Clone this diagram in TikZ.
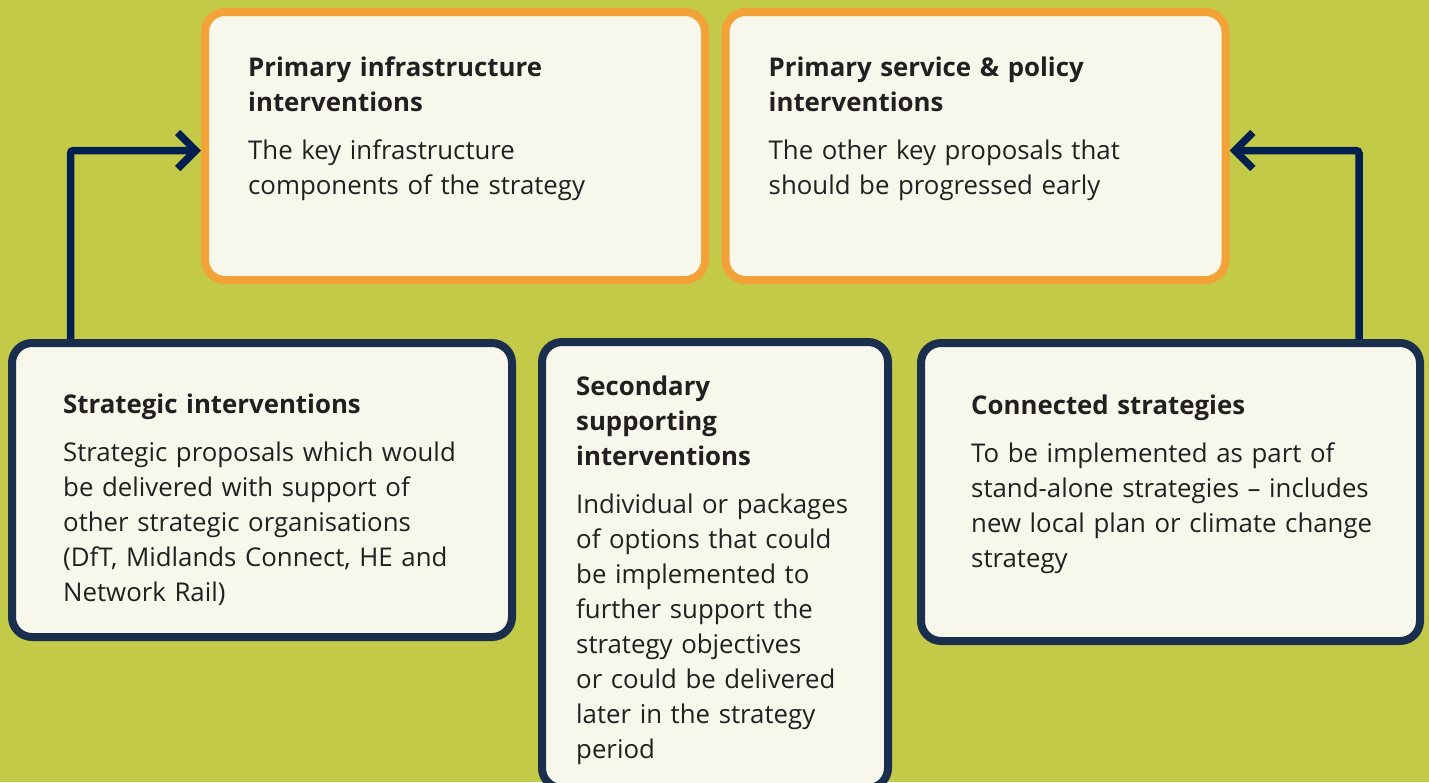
\documentclass[tikz,border=0pt]{standalone}
\usepackage{fontspec}
\setmainfont{Open Sans}
\usetikzlibrary{arrows.meta}
\definecolor{bgolive}{RGB}{195,202,71}
\definecolor{orangeb}{RGB}{242,162,55}
\definecolor{navyb}{RGB}{26,47,78}
\definecolor{arrowc}{RGB}{2,31,80}
\definecolor{boxfill}{RGB}{248,247,236}
\definecolor{txt}{RGB}{35,31,32}
\tikzset{
  panel/.style={draw, line width=8pt, fill=boxfill, rounded corners=20pt, inner sep=0pt},
  obox/.style={panel, draw=orangeb},
  nbox/.style={panel, draw=navyb},
  body/.style={anchor=north west, inner sep=0pt, text=txt, align=left, text width=#1,
    font=\fontsize{25.8}{35}\selectfont},
  conn/.style={draw=arrowc, line width=7.5pt, rounded corners=3pt,
    -{Straight Barb[length=18pt,width=36pt,line join=miter,line cap=butt]}}
}
\begin{document}
\begin{tikzpicture}[x=1pt,y=-1pt]
\useasboundingbox (0,0) rectangle (1429,782);
\fill[bgolive] (0,0) rectangle (1429,782);

\node[obox, minimum width=500pt, minimum height=268pt] (A) at (455,146) {};
\node[obox, minimum width=500pt, minimum height=268pt] (B) at (975.5,146) {};
\node[nbox, minimum width=500pt, minimum height=294pt] (C) at (262,490) {};
\node[nbox, minimum width=346pt, minimum height=446pt] (D) at (715,565) {};
\node[nbox, minimum width=499pt, minimum height=298pt] (E) at (1170.5,492) {};

\node[body=440pt] (At) at ([shift={(47,43.5)}]A.north west)
  {\bfseries\strut Primary infrastructure\\interventions\\[13pt]\mdseries The key infrastructure\\components of the strategy};
\node[body=440pt] (Bt) at ([shift={(47,43.5)}]B.north west)
  {\bfseries\strut Primary service \& policy\\interventions\\[13pt]\mdseries The other key proposals that\\should be progressed early};
\node[body=440pt] (Ct) at ([shift={(55,49.5)}]C.north west)
  {\bfseries\strut Strategic interventions\\[13pt]\mdseries Strategic proposals which would\\be delivered with support of\\other strategic organisations\\(DfT, Midlands Connect, HE and\\Network Rail)};
\node[body=300pt] (Dt) at ([shift={(38,32.5)}]D.north west)
  {\bfseries\strut Secondary\\supporting\\interventions\\[13pt]\mdseries Individual or packages\\of options that could\\be implemented to\\further support the\\strategy objectives\\or could be delivered\\later in the strategy\\period};
\node[body=440pt] (Et) at ([shift={(54,50.5)}]E.north west)
  {\bfseries\strut Connected strategies\\[13pt]\mdseries To be implemented as part of\\stand-alone strategies – includes\\new local plan or climate change\\strategy};

\draw[conn] ([xshift=62.5pt]C.north west) |- ([yshift=-4.5pt]A.west);
\draw[conn] ([xshift=-65pt]E.north east) |- ([yshift=-4.5pt]B.east);
\end{tikzpicture}
\end{document}
